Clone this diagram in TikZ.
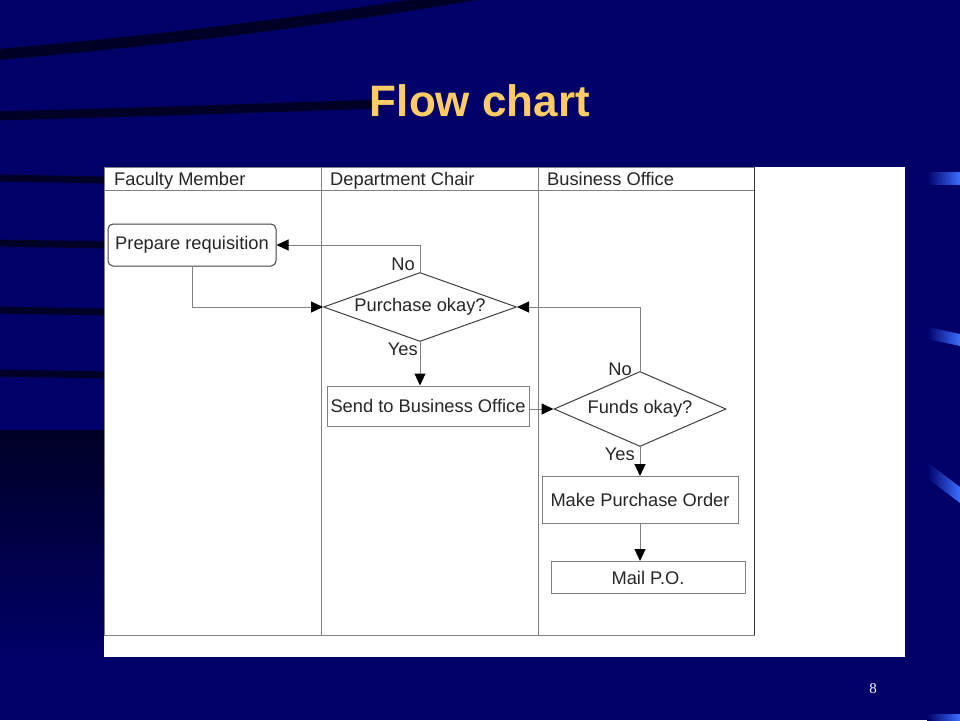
\documentclass[tikz,border=0pt]{standalone}
\usepackage{fontspec}
\setmainfont{Liberation Sans}
\newfontfamily\pagefont{Liberation Serif}
\usepackage{tikz}
\usetikzlibrary{positioning,shapes.geometric,arrows.meta}
\usepackage{xcolor}
\definecolor{slidenavy}{RGB}{0,0,104}
\definecolor{swooshdark}{RGB}{0,0,38}
\definecolor{dashblue}{RGB}{60,110,255}
\definecolor{titlegold}{RGB}{255,204,102}
\definecolor{chartline}{RGB}{128,128,128}

\begin{document}
\begin{tikzpicture}[
    x=1pt, y=-1pt,
    swoosh/.style   = {draw=swooshdark, line width=11pt},
    lanetext/.style = {anchor=base west, inner sep=0pt, text=black!85,
                       font=\fontsize{18.3}{18}\selectfont},
    procbox/.style  = {draw=chartline, line width=1pt, minimum width=202pt,
                       minimum height=40pt, inner sep=0pt, text=black!85,
                       font=\fontsize{18.3}{18}\selectfont},
    startbox/.style = {procbox, draw=black!75, rounded corners=5pt,
                       minimum width=168pt, minimum height=42pt},
    decision/.style = {diamond, draw=black!75, line width=1pt, aspect=2.8,
                       inner sep=0pt, text=black!85,
                       font=\fontsize{18.3}{18}\selectfont},
    tag/.style      = {inner sep=1pt, text=black!85,
                       font=\fontsize{18.3}{18}\selectfont},
    arr/.style      = {-{Triangle[length=12pt, width=11pt, color=black]},
                       draw=chartline, line width=1pt}
]
\useasboundingbox (0,0) rectangle (960,720);

% slide background
\fill[slidenavy] (0,0) rectangle (960,720);
\draw[swoosh] (-10,55) .. controls (150,42) and (330,20) .. (490,-8);
\draw[swoosh, line width=9pt] (-10,116) .. controls (120,113) and (260,108) .. (380,104);
\foreach \yy in {178,243,310,373}
  \draw[swoosh, line width=7pt] (-5,\yy) -- (110,\yy+2);
\shade[top color=swooshdark, bottom color=slidenavy] (0,430) rectangle (110,660);
\shade[left color=slidenavy, right color=dashblue] (927,172) rectangle (960,184);
\shade[left color=slidenavy, right color=dashblue] (927,327) -- (960,334) -- (960,346) -- (927,339) -- cycle;
\shade[left color=slidenavy, right color=dashblue] (927,462) -- (960,487) -- (960,503) -- (927,478) -- cycle;
\shade[left color=slidenavy, right color=dashblue] (927,714) rectangle (960,720);

% title and page number
\node[font=\fontsize{44}{44}\bfseries\selectfont, text=titlegold] (title) at (480,101) {Flow chart};
\node[font=\pagefont\fontsize{15}{15}\selectfont, text=white] (pagenum) at (873,689) {8};

% swim lanes
\fill[white] (104,167) rectangle (905,657);
\draw[chartline] (104,167) rectangle (754,635);
\draw[chartline] (104,190) -- (754,190);
\draw[chartline] (321,167) -- (321,635);
\draw[chartline] (538,167) -- (538,635);
\draw[black!80] (754,167) -- (754,635);

\node[lanetext] (facultyhead)  at (114,185) {Faculty Member};
\node[lanetext] (chairhead)    at (330,185) {Department Chair};
\node[lanetext] (officehead)   at (547,185) {Business Office};

% steps
\node[startbox] (prepare)  at (192,245) {Prepare requisition};
\node[decision, minimum width=193pt, minimum height=69pt] (purchase) at (420,307) {Purchase okay?};
\node[procbox]  (send)     at (428,406) {Send to Business Office};
\node[decision, aspect=2.3, minimum width=172pt, minimum height=75pt] (funds) at (640,409) {Funds okay?};
\node[procbox, minimum width=196pt, minimum height=47pt, below=29pt of funds] (makepo) {Make Purchase Order};
\node[procbox, minimum width=194pt, minimum height=32pt, below=37pt of makepo, xshift=8pt] (mail) {Mail P.O.};

% connectors
\draw[arr] (purchase.north) |- (prepare.east);
\draw[arr] (prepare.south) |- (purchase.west);
\draw[arr] (purchase.south) -- (purchase.south |- send.north);
\draw[arr] (send.east |- funds.west) -- (funds.west);
\draw[arr] (funds.north) |- (purchase.east);
\draw[arr] (funds.south) -- (makepo.north);
\draw[arr] (makepo.south) -- (makepo.south |- mail.north);

% branch labels
\node[tag, anchor=south east, xshift=-4pt] (purchaseno)  at (purchase.north) {No};
\node[tag, anchor=north east, xshift=-1pt] (purchaseyes) at (purchase.south) {Yes};
\node[tag, anchor=south east, xshift=-7pt, yshift=-6pt] (fundsno) at (funds.north) {No};
\node[tag, anchor=north east, xshift=-4pt] (fundsyes)    at (funds.south) {Yes};

\end{tikzpicture}
\end{document}
